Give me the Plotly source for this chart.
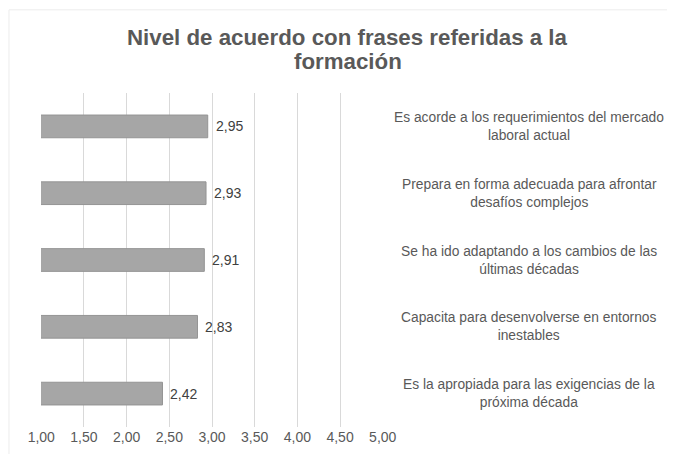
import plotly.graph_objects as go

# Data
frases = [
    "Es acorde a los requerimientos del mercado<br>laboral actual",
    "Prepara en forma adecuada para afrontar<br>desafíos complejos",
    "Se ha ido adaptando a los cambios de las<br>últimas décadas",
    "Capacita para desenvolverse en entornos<br>inestables",
    "Es la apropiada para las exigencias de la<br>próxima década",
]
valores = [2.95, 2.93, 2.91, 2.83, 2.42]
x_ticks = [1.0, 1.5, 2.0, 2.5, 3.0, 3.5, 4.0, 4.5, 5.0]
titulo = ["Nivel de acuerdo con frases referidas a la", "formación"]

cats = list(range(len(frases)))

fig = go.Figure(go.Bar(
    x=valores,
    y=cats,
    orientation="h",
    marker=dict(color="#a6a6a6", line=dict(color="#949494", width=1)),
    width=0.34,
    hoverinfo="x",
))

# value labels next to the bars
for c, v in zip(cats, valores):
    fig.add_annotation(
        x=v, y=c, xref="x", yref="y",
        text=f"{v:.2f}".replace(".", ","), showarrow=False,
        xanchor="left", xshift=6,
        font=dict(size=14, color="#404040"),
    )

# category labels on the right
for c, txt in zip(cats, frases):
    fig.add_annotation(
        x=1.427, xref="paper", y=c, yref="y",
        text=txt, showarrow=False, xanchor="center", align="center",
        font=dict(size=13.8, color="#595959"),
    )

# title, one annotation per line
for yy, line in zip([1.165, 1.093], titulo):
    fig.add_annotation(
        x=0.897, xref="paper", y=yy, yref="paper",
        text=f"<b>{line}</b>", showarrow=False,
        xanchor="center", yanchor="middle",
        font=dict(size=22.3, color="#595959"),
    )

fig.add_shape(type="rect", xref="paper", yref="paper",
              x0=-0.0936, x1=2.2, y0=-0.3, y1=1.249,
              line=dict(color="#ececec", width=1))

fig.update_layout(
    width=675, height=454,
    margin=dict(l=33, r=300, t=85, b=35),
    paper_bgcolor="white", plot_bgcolor="white",
    separators=",.",
    showlegend=False,
    font=dict(family="Liberation Sans, Arial, sans-serif", color="#595959"),
    xaxis=dict(
        range=[0.997, 5.003], tickvals=x_ticks, tickformat=".2f",
        showgrid=True, gridcolor="#d9d9d9", gridwidth=1,
        zeroline=False, showline=False, ticks="",
        tickfont=dict(size=14, color="#595959"),
    ),
    yaxis=dict(
        range=[4.5, -0.5], showticklabels=False, showgrid=False,
        zeroline=False, showline=False,
    ),
)

fig.write_html("out.html")
